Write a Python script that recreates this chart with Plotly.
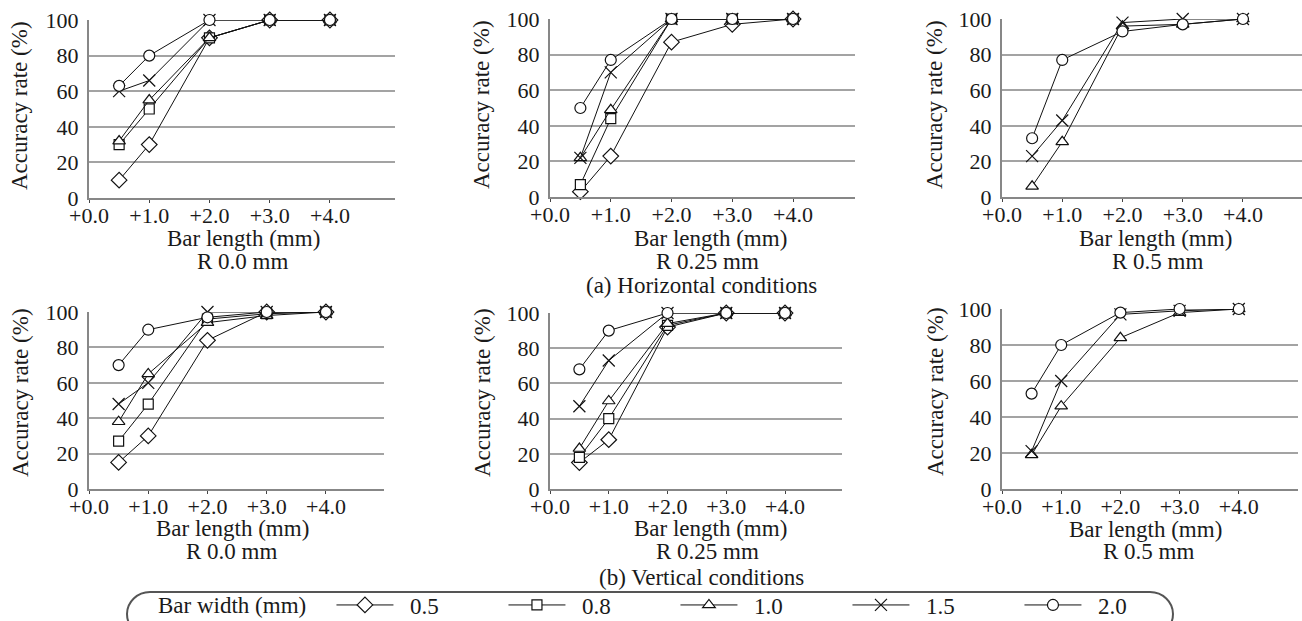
import plotly.graph_objects as go

W, H = 1302, 621

# ---------------- data ----------------
bar_lengths = [0.5, 1.0, 2.0, 3.0, 4.0]
x_tick_vals = [0, 1, 2, 3, 4]
x_tick_text = ["+0.0", "+1.0", "+2.0", "+3.0", "+4.0"]
y_tick_vals = [0, 20, 40, 60, 80, 100]
bar_widths = ["0.5", "0.8", "1.0", "1.5", "2.0"]

# rows follow bar_widths order: 0.5, 0.8, 1.0, 1.5, 2.0
horiz_r000 = [
    [10, 30, 90, 100, 100],
    [30, 50, 90, 100, 100],
    [32, 55, 90, 100, 100],
    [60, 66, 100, 100, 100],
    [63, 80, 100, 100, 100],
]
horiz_r025 = [
    [3, 23, 87, 97, 100],
    [7, 44, 100, 100, 100],
    [22, 49, 100, 100, 100],
    [22, 70, 100, 100, 100],
    [50, 77, 100, 100, 100],
]
horiz_r050 = [
    None,
    None,
    [6, 31, 96, 97, 100],
    [23, 43, 98, 100, 100],
    [33, 77, 93, 97, 100],
]
vert_r000 = [
    [15, 30, 84, 100, 100],
    [27, 48, 96, 99, 100],
    [38, 65, 94, 98, 100],
    [48, 60, 100, 100, 100],
    [70, 90, 97, 100, 100],
]
vert_r025 = [
    [15, 28, 92, 100, 100],
    [18, 40, 93, 100, 100],
    [23, 50, 94, 100, 100],
    [47, 73, 100, 100, 100],
    [68, 90, 100, 100, 100],
]
vert_r050 = [
    None,
    None,
    [19, 46, 84, 98, 100],
    [21, 60, 97, 99, 100],
    [53, 80, 98, 100, 100],
]
panels = [horiz_r000, horiz_r025, horiz_r050, vert_r000, vert_r025, vert_r050]
radius_labels = ["R 0.0 mm", "R 0.25 mm", "R 0.5 mm", "R 0.0 mm", "R 0.25 mm", "R 0.5 mm"]
group_labels = ["(a) Horizontal conditions", "(b) Vertical conditions"]

# ---------------- style ----------------
FONT = "Liberation Serif, 'Times New Roman', 'DejaVu Serif', serif"
TXT = "#1a1a1a"
TICK_SIZE = 22
TITLE_SIZE = 23
symbols = ["diamond", "square", "triangle-up", "x-thin", "circle"]
msizes = [12, 10, 11, 12, 11]

# panel geometry in pixels: left, right, top, bottom, x-range max
geom = [
    (89, 395, 20, 198, 5.08),
    (550, 855, 19, 197, 5.02),
    (1002, 1302, 19, 197, 4.98),
    (89, 384, 312, 489, 4.98),
    (550, 842, 313, 489, 4.97),
    (1002, 1298, 309, 489, 5.0),
]
xlab_pos = [(243, 239), (710, 239), (1155, 239), (232, 528), (710, 528), (1145, 529)]
rlab_pos = [(242, 261), (707, 261), (1157, 261), (231, 551), (707, 551), (1148, 551)]
ylab_pos = [(20, 106), (482, 105), (935, 105), (20, 393), (482, 393), (935, 392)]
group_pos = [(701, 285), (701, 577)]


def px(x):
    return x / W


def py(y):
    return 1 - y / H


fig = go.Figure()
layout = dict(
    template="none",
    width=W, height=H, autosize=False,
    margin=dict(l=0, r=0, t=0, b=0, pad=0, autoexpand=False),
    paper_bgcolor="white", plot_bgcolor="white",
    font=dict(family=FONT, size=TICK_SIZE, color=TXT),
    hovermode=False,
)

annotations = []
for i, (data, (l, r, t, b, xmax)) in enumerate(zip(panels, geom)):
    k = "" if i == 0 else str(i + 1)
    xa, ya = "x" + k, "y" + k
    layout["xaxis" + k] = dict(
        domain=[px(l), min(px(r), 1.0)], anchor=ya, range=[0, xmax],
        tickmode="array", tickvals=x_tick_vals, ticktext=x_tick_text,
        showgrid=False, zeroline=False, showline=True, linecolor="#878787", linewidth=2,
        ticks="outside", ticklen=3, tickcolor="#444", tickwidth=1,
        ticklabelstandoff=-6,
        tickfont=dict(family=FONT, size=TICK_SIZE, color=TXT), fixedrange=True,
        automargin=False,
    )
    layout["yaxis" + k] = dict(
        domain=[py(b), py(t)], anchor=xa, range=[0, 100],
        tickmode="array", tickvals=y_tick_vals,
        showgrid=True, gridcolor="#a3a3a3", gridwidth=1.5,
        zeroline=False, showline=True, linecolor="#878787", linewidth=2,
        ticks="", ticklabelstandoff=4,
        tickfont=dict(family=FONT, size=TICK_SIZE, color=TXT), fixedrange=True,
        automargin=False,
    )
    for j, series in enumerate(data):
        if series is None:
            continue
        fig.add_trace(go.Scatter(
            x=bar_lengths, y=series, xaxis=xa, yaxis=ya,
            mode="lines+markers", name="  " + bar_widths[j],
            legendgroup=bar_widths[j], showlegend=(i == 0),
            cliponaxis=False,
            line=dict(color="#111", width=1),
            marker=dict(symbol=symbols[j], size=msizes[j], color="white",
                        line=dict(color="#111", width=1.2)),
        ))
    annotations.append(dict(text="Bar length (mm)", x=px(xlab_pos[i][0]), y=py(xlab_pos[i][1]),
                            xref="paper", yref="paper", showarrow=False,
                            xanchor="center", yanchor="middle",
                            font=dict(family=FONT, size=TITLE_SIZE, color=TXT)))
    annotations.append(dict(text=radius_labels[i], x=px(rlab_pos[i][0]), y=py(rlab_pos[i][1]),
                            xref="paper", yref="paper", showarrow=False,
                            xanchor="center", yanchor="middle",
                            font=dict(family=FONT, size=TITLE_SIZE, color=TXT)))
    annotations.append(dict(text="Accuracy rate (%)", x=px(ylab_pos[i][0]), y=py(ylab_pos[i][1]),
                            xref="paper", yref="paper", showarrow=False, textangle=-90,
                            xanchor="center", yanchor="middle",
                            font=dict(family=FONT, size=TITLE_SIZE, color=TXT)))

for txt, (gx, gy) in zip(group_labels, group_pos):
    annotations.append(dict(text=txt, x=px(gx), y=py(gy), xref="paper", yref="paper",
                            showarrow=False, xanchor="center", yanchor="middle",
                            font=dict(family=FONT, size=TITLE_SIZE, color=TXT)))

layout["annotations"] = annotations

# legend frame (rounded "stadium" outline)
L, R, T, B = 127, 1173, 592, 636
rx, ry = 23, 22
k_ = 0.5523
path = (
    f"M {px(L + rx)},{py(B)} "
    f"C {px(L + rx - k_ * rx)},{py(B)} {px(L)},{py(B - ry + k_ * ry)} {px(L)},{py(B - ry)} "
    f"C {px(L)},{py(T + ry - k_ * ry)} {px(L + rx - k_ * rx)},{py(T)} {px(L + rx)},{py(T)} "
    f"L {px(R - rx)},{py(T)} "
    f"C {px(R - rx + k_ * rx)},{py(T)} {px(R)},{py(T + ry - k_ * ry)} {px(R)},{py(T + ry)} "
    f"C {px(R)},{py(B - ry + k_ * ry)} {px(R - rx + k_ * rx)},{py(B)} {px(R - rx)},{py(B)} Z"
)
layout["shapes"] = [dict(type="path", path=path, xref="paper", yref="paper",
                         line=dict(color="#555", width=2), layer="below")]

layout["legend"] = dict(
    orientation="h", x=px(156), xanchor="left", y=py(605), yanchor="middle",
    title=dict(text="Bar width (mm)&nbsp;&nbsp;&nbsp;", side="left",
               font=dict(family=FONT, size=TITLE_SIZE, color=TXT)),
    font=dict(size=TITLE_SIZE, family=FONT, color=TXT),
    bgcolor="rgba(0,0,0,0)", borderwidth=0,
    itemwidth=57, entrywidth=100, entrywidthmode="pixels",
    itemclick=False, itemdoubleclick=False,
)

fig.update_layout(**layout)
fig.write_html(
    "out.html", include_plotlyjs=True, config={"displayModeBar": False},
    post_script="document.body.style.margin='0';document.body.style.padding='0';"
                "document.documentElement.style.overflow='hidden';",
)
